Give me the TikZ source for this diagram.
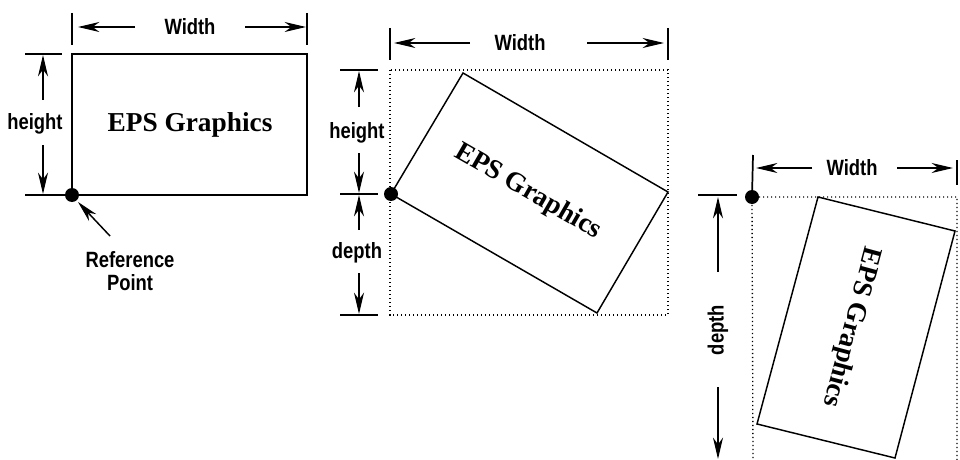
\documentclass[tikz,border=0pt]{standalone}
\usepackage{fontspec}
\usetikzlibrary{arrows.meta}
\newfontfamily\lblfont{Liberation Sans}
\newfontfamily\epsfont{Liberation Serif}
\newcommand\lbltxt[1]{\scalebox{1}[1.2]{#1}}
\newcommand\epstxt{EPS Graphics}
\begin{document}
\begin{tikzpicture}[x=0.75pt,y=-0.75pt,
  solid line/.style={line width=1.1pt, line join=miter},
  dimarrow/.style={line width=1.1pt,-{Stealth[length=16pt,width=7.5pt,inset=5pt]}},
  tickline/.style={line width=1.3pt},
  dotline/.style={line width=1pt,dash pattern=on 0.8pt off 2.2pt},
  lbl/.style={font=\lblfont\bfseries\fontsize{13.8}{17.25}\selectfont, inner sep=0pt, align=center},
  eps/.style={font=\epsfont\bfseries\fontsize{20.5}{22}\selectfont, inner sep=0pt},
  refdot/.style={fill=black, circle, inner sep=0pt, minimum size=10.5pt}
]
\useasboundingbox (0,0) rectangle (960,460);

% ---------------- Panel 1 ----------------
\coordinate (A1) at (72,195);
\coordinate (B1) at (307,195);
\coordinate (C1) at (307,54);
\coordinate (D1) at (72,54);
\draw[solid line] (A1) -- (B1) -- (C1) -- (D1) -- cycle;
\node[eps] (eps1) at (190,125) {\epstxt};
% width dimension
\coordinate (w1a) at (72,13); \coordinate (w1b) at (72,45);
\coordinate (w1c) at (307,13); \coordinate (w1d) at (307,45);
\draw[tickline] (w1a) -- (w1b);
\draw[tickline] (w1c) -- (w1d);
\node[lbl] (wl1) at (190,27) {\lbltxt{Width}};
\coordinate (w1lt) at (135,27); \coordinate (w1lh) at (78,27);
\coordinate (w1rt) at (245,27); \coordinate (w1rh) at (306,27);
\draw[dimarrow] (w1lt) -- (w1lh);
\draw[dimarrow] (w1rt) -- (w1rh);
% height dimension
\coordinate (h1a) at (25,54); \coordinate (h1b) at (62,54);
\coordinate (h1c) at (25,195);
\draw[tickline] (h1a) -- (h1b);
\draw[tickline] (h1c) -- (A1);
\node[lbl] (hl1) at (35,124) {\lbltxt{height}};
\coordinate (h1ut) at (43,100); \coordinate (h1uh) at (43,55);
\coordinate (h1dt) at (43,145); \coordinate (h1dh) at (43,194);
\draw[dimarrow] (h1ut) -- (h1uh);
\draw[dimarrow] (h1dt) -- (h1dh);
% reference point
\node[refdot] (dot1) at (A1) {};
\node[lbl] (reflbl) at (130,271) {\lbltxt{Reference}\\\lbltxt{Point}};
\coordinate (r1t) at (110,236); \coordinate (r1h) at (78,202);
\draw[dimarrow] (r1t) -- (r1h);

% ---------------- Panel 2 ----------------
\coordinate (A2) at (391,194);
\coordinate (B2) at (463,73);
\coordinate (C2) at (668,192);
\coordinate (D2) at (597,313);
\coordinate (bb2a) at (390,70);
\coordinate (bb2b) at (668,315);
\draw[dotline] (bb2a) rectangle (bb2b);
\draw[solid line, fill=white] (A2) -- (B2) -- (C2) -- (D2) -- cycle;
\node[eps, rotate=-30] (eps2) at (528,192) {\epstxt};
% width
\coordinate (w2a) at (390,28); \coordinate (w2b) at (390,60);
\coordinate (w2c) at (668,28); \coordinate (w2d) at (668,60);
\draw[tickline] (w2a) -- (w2b);
\draw[tickline] (w2c) -- (w2d);
\node[lbl] (wl2) at (520,43) {\lbltxt{Width}};
\coordinate (w2lt) at (470,43); \coordinate (w2lh) at (394,43);
\coordinate (w2rt) at (587,43); \coordinate (w2rh) at (664,43);
\draw[dimarrow] (w2lt) -- (w2lh);
\draw[dimarrow] (w2rt) -- (w2rh);
% height / depth
\coordinate (t2a) at (340,70); \coordinate (t2b) at (378,70);
\coordinate (t2c) at (340,194); \coordinate (t2d) at (378,194);
\coordinate (t2e) at (340,315); \coordinate (t2f) at (378,315);
\draw[tickline] (t2a) -- (t2b);
\draw[tickline] (t2c) -- (t2d);
\draw[tickline] (t2e) -- (t2f);
\node[lbl] (hl2) at (357,133) {\lbltxt{height}};
\node[lbl] (dl2) at (357,253) {\lbltxt{depth}};
\coordinate (h2ut) at (359,107); \coordinate (h2uh) at (359,71);
\coordinate (h2dt) at (359,153); \coordinate (h2dh) at (359,193);
\coordinate (d2ut) at (359,230); \coordinate (d2uh) at (359,195);
\coordinate (d2dt) at (359,273); \coordinate (d2dh) at (359,314);
\draw[dimarrow] (h2ut) -- (h2uh);
\draw[dimarrow] (h2dt) -- (h2dh);
\draw[dimarrow] (d2ut) -- (d2uh);
\draw[dimarrow] (d2dt) -- (d2dh);
\node[refdot] (dot2) at (A2) {};

% ---------------- Panel 3 ----------------
\coordinate (R3) at (752,197);
\coordinate (A3) at (818,197);
\coordinate (B3) at (955,231);
\coordinate (C3) at (895,458);
\coordinate (D3) at (757,424);
\coordinate (bb3a) at (753,462);
\coordinate (bb3b) at (957,197);
\coordinate (bb3c) at (957,462);
\draw[dotline] (bb3a) -- (R3) -- (bb3b) -- (bb3c);
\draw[solid line, fill=white] (A3) -- (B3) -- (C3) -- (D3) -- cycle;
\node[eps, rotate=-105] (eps3) at (851,327) {\epstxt};
% width
\coordinate (w3a) at (753,155);
\coordinate (w3c) at (957,160); \coordinate (w3d) at (957,185);
\draw[tickline] (w3a) -- (R3);
\draw[tickline] (w3c) -- (w3d);
\node[lbl] (wl3) at (852,168) {\lbltxt{Width}};
\coordinate (w3lt) at (812,168); \coordinate (w3lh) at (756,168);
\coordinate (w3rt) at (897,168); \coordinate (w3rh) at (953,168);
\draw[dimarrow] (w3lt) -- (w3lh);
\draw[dimarrow] (w3rt) -- (w3rh);
% depth
\coordinate (t3a) at (698,195); \coordinate (t3b) at (737,195);
\draw[tickline] (t3a) -- (t3b);
\node[lbl, rotate=90] (dl3) at (718,330) {\lbltxt{depth}};
\coordinate (d3ut) at (718,272); \coordinate (d3uh) at (718,197);
\coordinate (d3dt) at (718,387); \coordinate (d3dh) at (718,459);
\draw[dimarrow] (d3ut) -- (d3uh);
\draw[dimarrow] (d3dt) -- (d3dh);
\node[refdot] (dot3) at (R3) {};
\end{tikzpicture}
\end{document}
